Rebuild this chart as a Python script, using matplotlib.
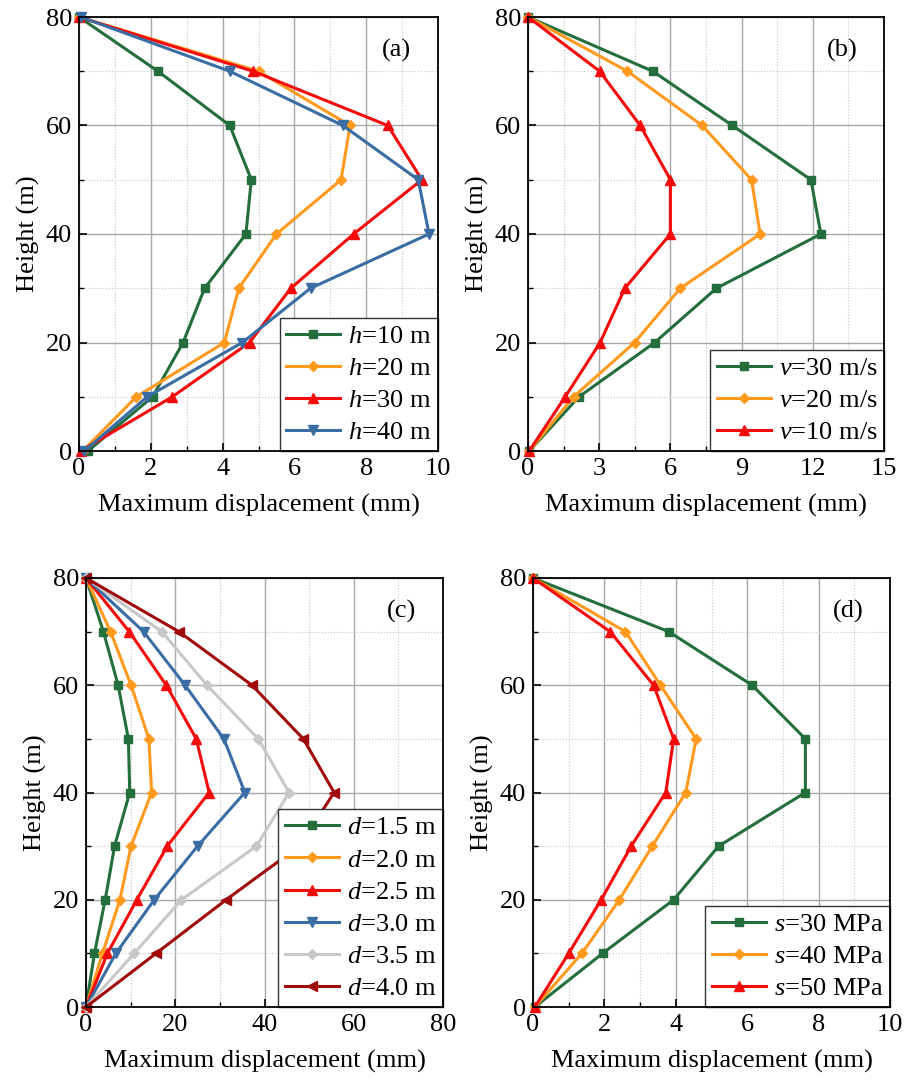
import matplotlib
matplotlib.use("Agg")
import matplotlib.pyplot as plt
from matplotlib.ticker import MultipleLocator

plt.rcParams['font.family'] = ['Liberation Serif', 'DejaVu Serif']
plt.rcParams['mathtext.fontset'] = 'custom'
plt.rcParams['mathtext.rm'] = 'Liberation Serif'
plt.rcParams['mathtext.it'] = 'Liberation Serif:italic'

heights = [0, 10, 20, 30, 40, 50, 60, 70, 80]

# Panel (a): pile length h
a_labels = ['$h$=10 m', '$h$=20 m', '$h$=30 m', '$h$=40 m']
a_h10 = [0.25, 2.05, 2.9, 3.5, 4.65, 4.8, 4.2, 2.2, 0.0]
a_h20 = [0.1, 1.6, 4.05, 4.45, 5.5, 7.3, 7.55, 5.0, 0.0]
a_h30 = [0.05, 2.6, 4.75, 5.9, 7.65, 9.55, 8.6, 4.85, 0.0]
a_h40 = [0.15, 1.9, 4.55, 6.45, 9.75, 9.45, 7.35, 4.2, 0.05]

# Panel (b): wind speed v
b_labels = ['$v$=30 m/s', '$v$=20 m/s', '$v$=10 m/s']
b_v30 = [0.05, 2.15, 5.34, 7.94, 12.34, 11.92, 8.61, 5.26, 0.0]
b_v20 = [0.05, 1.92, 4.49, 6.42, 9.78, 9.42, 7.34, 4.19, 0.0]
b_v10 = [0.05, 1.57, 3.04, 4.08, 6.0, 6.0, 4.73, 3.02, 0.0]

# Panel (c): pile diameter d
c_labels = ['$d$=1.5 m', '$d$=2.0 m', '$d$=2.5 m', '$d$=3.0 m', '$d$=3.5 m', '$d$=4.0 m']
c_d15 = [0.0, 1.9, 4.3, 6.4, 9.8, 9.5, 7.2, 3.9, 0.0]
c_d20 = [0.0, 3.7, 7.6, 10.1, 14.7, 14.1, 10.1, 5.5, 0.0]
c_d25 = [0.0, 4.8, 11.4, 18.2, 27.6, 24.7, 18.0, 9.7, 0.0]
c_d30 = [0.0, 6.7, 15.3, 25.0, 35.6, 30.9, 22.2, 12.9, 0.0]
c_d35 = [0.0, 10.8, 21.4, 38.2, 45.5, 38.6, 27.1, 17.0, 0.0]
c_d40 = [0.0, 15.7, 31.4, 47.8, 55.6, 48.7, 37.2, 20.8, 0.0]

# Panel (d): strength s
d_labels = ['$s$=30 MPa', '$s$=40 MPa', '$s$=50 MPa']
d_s30 = [0.05, 1.95, 3.94, 5.2, 7.63, 7.63, 6.14, 3.8, 0.0]
d_s40 = [0.05, 1.37, 2.42, 3.34, 4.28, 4.57, 3.57, 2.59, 0.0]
d_s50 = [0.05, 1.0, 1.91, 2.75, 3.72, 3.94, 3.38, 2.16, 0.0]

GREEN = '#236E3C'
ORANGE = '#FF9A1F'
RED = '#F40A0A'
BLUE = '#3A6DA3'
GREY = '#C8C8C8'
DRED = '#A00A0A'

FS = 19

fig = plt.figure(figsize=(9.07, 10.89), dpi=100)
W, H = 907, 1089

def add_ax(l, r, t, b):
    return fig.add_axes([l / W, 1 - b / H, (r - l) / W, (b - t) / H])

panels = [
    dict(rect=(79, 438, 17, 451), xmax=10, xmaj=2, tag='(a)',
         series=[(a_h10, GREEN, 's'), (a_h20, ORANGE, 'D'), (a_h30, RED, '^'), (a_h40, BLUE, 'v')],
         labels=a_labels),
    dict(rect=(528, 884, 17, 451), xmax=15, xmaj=3, tag='(b)',
         series=[(b_v30, GREEN, 's'), (b_v20, ORANGE, 'D'), (b_v10, RED, '^')],
         labels=b_labels),
    dict(rect=(86, 443, 578, 1007), xmax=80, xmaj=20, tag='(c)',
         series=[(c_d15, GREEN, 's'), (c_d20, ORANGE, 'D'), (c_d25, RED, '^'),
                 (c_d30, BLUE, 'v'), (c_d35, GREY, 'D'), (c_d40, DRED, '<')],
         labels=c_labels),
    dict(rect=(533, 890, 578, 1007), xmax=10, xmaj=2, tag='(d)',
         series=[(d_s30, GREEN, 's'), (d_s40, ORANGE, 'D'), (d_s50, RED, '^')],
         labels=d_labels),
]

for p in panels:
    ax = add_ax(*p['rect'])
    for (vals, col, mk), lab in zip(p['series'], p['labels']):
        ms = 6 if mk in ('s',) else (5.5 if mk == 'D' else 7)
        ax.plot(vals, heights, color=col, marker=mk, ms=ms, lw=2.2, label=lab,
                clip_on=False, zorder=3)
    ax.set_xlim(0, p['xmax'])
    ax.set_ylim(0, 80)
    ax.xaxis.set_major_locator(MultipleLocator(p['xmaj']))
    ax.xaxis.set_minor_locator(MultipleLocator(p['xmaj'] / 2))
    ax.yaxis.set_major_locator(MultipleLocator(20))
    ax.yaxis.set_minor_locator(MultipleLocator(10))
    ax.grid(True, which='major', color='#A8A8A8', lw=1.0, ls='-')
    ax.grid(True, which='minor', color='#C8C8C8', lw=0.8, ls=':')
    ax.set_axisbelow(True)
    ax.tick_params(which='both', direction='in', top=False, right=False,
                   labelsize=FS, pad=5)
    ax.tick_params(which='major', length=6, width=1.2)
    ax.tick_params(which='minor', length=3.5, width=1.0)
    for s in ax.spines.values():
        s.set_linewidth(1.3)
        s.set_zorder(7)
    ax.set_xlabel('Maximum displacement (mm)', fontsize=FS, labelpad=10)
    ax.set_ylabel('Height (m)', fontsize=FS, labelpad=4)
    ax.text(0.883, 0.923, p['tag'], transform=ax.transAxes, fontsize=FS,
            ha='center', va='center')
    leg = ax.legend(loc='lower right', fontsize=19, frameon=True, fancybox=False,
                    borderaxespad=0, handlelength=2.05, handletextpad=0.3,
                    labelspacing=0.33, borderpad=0.25, framealpha=1)
    leg.get_frame().set_edgecolor('#333333')
    leg.get_frame().set_linewidth(1.0)
    leg.set_zorder(6)

fig.savefig('out.png', dpi=100)
